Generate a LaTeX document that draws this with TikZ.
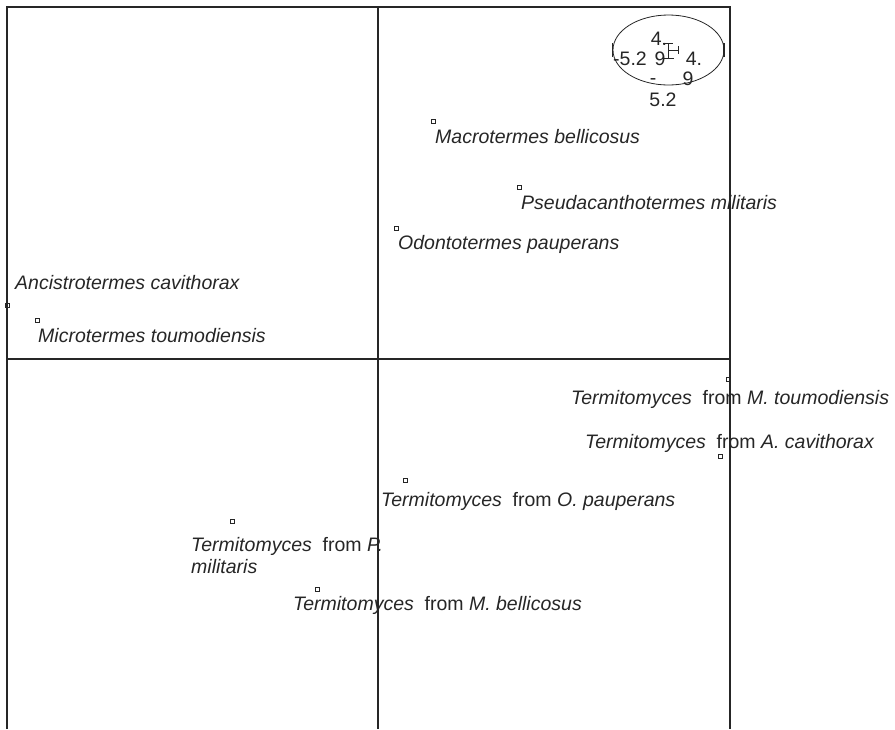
\documentclass[tikz,border=0pt]{standalone}
\usepackage{fontspec}
\setmainfont{Liberation Sans}
\definecolor{ink}{HTML}{262626}
\begin{document}
\begin{tikzpicture}[x=1pt,y=-1pt,
  frame/.style={draw=ink,line width=1.1pt},
  pt/.style={draw=ink,line width=0.6pt,minimum size=4pt,inner sep=0pt,outer sep=0pt,rectangle},
  lbl/.style={anchor=base west,inner sep=0pt,font=\fontsize{19.5}{21.5}\selectfont,text=ink,align=left},
  elab/.style={anchor=base,inner sep=0pt,font=\fontsize{19.5}{21.5}\selectfont,text=ink}]
\useasboundingbox (0,0) rectangle (895,729);
% frame and axes
\coordinate (tl) at (7,7);
\coordinate (tr) at (730,7);
\coordinate (bl) at (7,729);
\coordinate (br) at (730,729);
\coordinate (mt) at (378,7);
\coordinate (mb) at (378,729);
\coordinate (ml) at (7,359);
\coordinate (mr) at (730,359);
\draw[frame] (bl) -- (tl) -- (tr) -- (br);
\draw[frame] (mt) -- (mb);
\draw[frame] (ml) -- (mr);
% scale ellipse
\draw[ink,line width=0.8pt] (668.5,50) ellipse [x radius=55.5, y radius=35];
\draw[ink,line width=1.2pt] (612.5,43) -- (612.5,57);
\draw[ink,line width=1.2pt] (724,43) -- (724,57);
\draw[ink,line width=0.7pt] (663,43) -- (673,43) (668,43) -- (668,58) (662,58) -- (674,58)
  (668,50) -- (678,50) (678,46) -- (678,54);
\node[elab] (e1) at (659,45) {4.};
\node[elab] (e2) at (630,65) {-5.2};
\node[elab] (e3) at (660,65) {9};
\node[elab] (e4) at (694,65) {4.};
\node[elab] (e5) at (653,84) {-};
\node[elab] (e6) at (688,85) {9};
\node[elab] (e7) at (663,106) {5.2};
% points
\node[pt] (p1) at (433,121) {};
\node[pt] (p2) at (519,187) {};
\node[pt] (p3) at (396,228) {};
\node[pt] (p4) at (7,305) {};
\node[pt] (p5) at (37,320) {};
\node[pt] (p6) at (728,379) {};
\node[pt] (p7) at (720,456) {};
\node[pt] (p8) at (405,480) {};
\node[pt] (p9) at (232,521) {};
\node[pt] (p10) at (317,589) {};
% labels
\node[lbl] (l1) at (435,143) {\textit{Macrotermes bellicosus}};
\node[lbl] (l2) at (521,209) {\textit{Pseudacanthotermes militaris}};
\node[lbl] (l3) at (398,249) {\textit{Odontotermes pauperans}};
\node[lbl] (l4) at (15,289) {\textit{Ancistrotermes cavithorax}};
\node[lbl] (l5) at (38,342) {\textit{Microtermes toumodiensis}};
\node[lbl] (l6) at (571,404) {\textit{Termitomyces}\ \ from \textit{M. toumodiensis}};
\node[lbl] (l7) at (585,448) {\textit{Termitomyces}\ \ from \textit{A. cavithorax}};
\node[lbl] (l8) at (381,506) {\textit{Termitomyces}\ \ from \textit{O. pauperans}};
\node[lbl] (l9) at (191,573) {\textit{Termitomyces}\ \ from \textit{P.}\\\textit{militaris}};
\node[lbl] (l10) at (293,610) {\textit{Termitomyces}\ \ from \textit{M. bellicosus}};
\end{tikzpicture}
\end{document}
